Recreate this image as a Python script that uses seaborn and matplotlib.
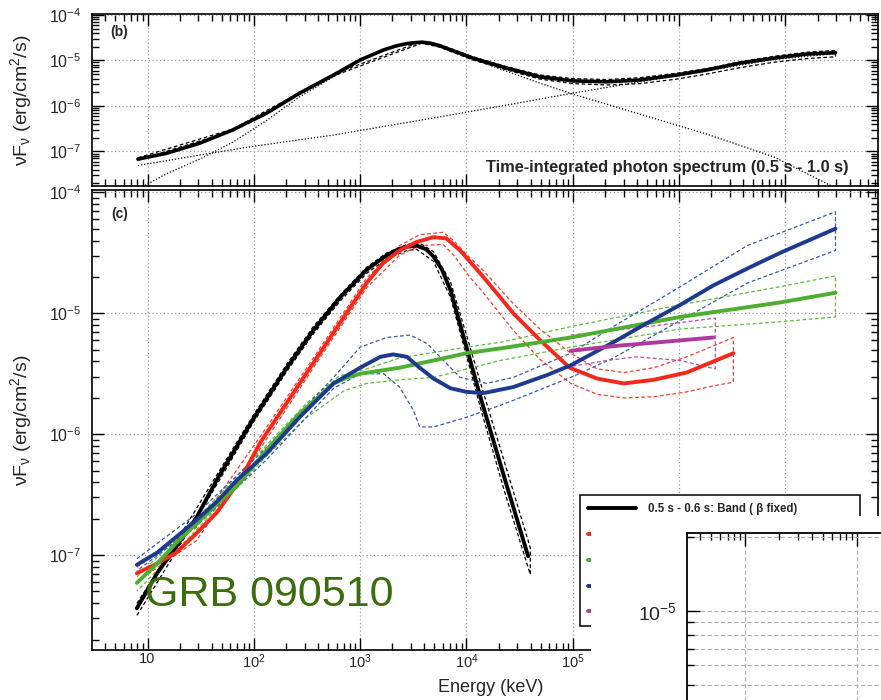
import numpy as np
import pandas as pd
import matplotlib
matplotlib.use("Agg")
import matplotlib.pyplot as plt
import seaborn as sns
from matplotlib.ticker import LogLocator, NullFormatter, FuncFormatter
from matplotlib.patches import Rectangle

# ---------------- data: log10(E / keV) and log10(nuFnu / erg cm^-2 s^-1) ----------------
# panel (b): time-integrated spectrum
b_total_logE = [0.91, 1.18, 1.49, 1.80, 2.12, 2.43, 2.75, 3.00, 3.22, 3.34, 3.44, 3.52, 3.58, 3.66, 3.75, 3.90,
                4.06, 4.38, 4.69, 5.00, 5.32, 5.63, 5.98, 6.26, 6.57, 6.89, 7.20, 7.47]
b_total_logF = [-7.17, -7.04, -6.82, -6.53, -6.16, -5.72, -5.32, -4.99, -4.77, -4.68, -4.63, -4.61, -4.60, -4.62,
                -4.68, -4.81, -4.95, -5.17, -5.36, -5.45, -5.47, -5.43, -5.32, -5.21, -5.06, -4.95, -4.86, -4.83]
b_up_logE = [0.91, 1.80, 2.75, 3.58, 3.75, 4.06, 4.38, 4.69, 5.00, 5.32, 5.63, 5.98, 6.26, 6.57, 6.89, 7.20, 7.47]
b_up_logF = [-7.14, -6.51, -5.30, -4.58, -4.65, -4.92, -5.14, -5.32, -5.40, -5.42, -5.38, -5.28, -5.18, -5.03, -4.91, -4.82, -4.78]
b_lo_logE = [0.91, 1.80, 2.75, 3.58, 3.75, 4.06, 4.38, 4.69, 5.00, 5.32, 5.63, 5.98, 6.26, 6.57, 6.89, 7.20, 7.47]
b_lo_logF = [-7.19, -6.55, -5.34, -4.62, -4.71, -4.99, -5.21, -5.41, -5.51, -5.54, -5.51, -5.41, -5.30, -5.16, -5.04, -4.96, -4.92]
b_bandcomp_logE = [0.95, 1.18, 1.49, 1.80, 2.12, 2.43, 2.75, 3.00, 3.22, 3.44, 3.58, 3.75, 4.06, 4.38, 4.69,
                   5.00, 5.63, 6.26, 6.89, 7.45]
b_bandcomp_logF = [-7.78, -7.49, -7.17, -6.80, -6.32, -5.80, -5.36, -5.01, -4.78, -4.63, -4.61, -4.70, -4.97, -5.24, -5.50,
                   -5.74, -6.18, -6.62, -7.12, -7.78]
b_pl_logE = [0.91, 1.49, 1.99, 2.75, 3.75, 4.38, 5.00, 5.63, 6.26, 6.89, 7.47]
b_pl_logF = [-7.31, -7.08, -6.89, -6.64, -6.24, -5.98, -5.72, -5.47, -5.23, -4.98, -4.85]

# panel (c): time-resolved spectra (only the first legend entry is visible in the picture)
intervals = ["0.5 s - 0.6 s: Band ( \u03b2 fixed)", "", " ", "  ", "   "]

black_logE = [0.90, 1.09, 1.27, 1.46, 1.65, 1.99, 2.31, 2.56, 2.81, 3.06, 3.25, 3.36, 3.44, 3.53, 3.62, 3.69,
              3.77, 3.85, 4.00, 4.14, 4.36, 4.58]
black_logF = [-7.44, -7.15, -6.93, -6.69, -6.38, -5.88, -5.45, -5.14, -4.87, -4.64, -4.52, -4.47, -4.45, -4.44, -4.47,
              -4.53, -4.64, -4.81, -5.28, -5.72, -6.37, -7.01]
black_up_logE = [0.90, 1.27, 1.65, 1.99, 2.31, 2.56, 2.81, 3.06, 3.25, 3.44, 3.56, 3.69, 3.85, 4.00, 4.14, 4.36, 4.60]
black_up_logF = [-7.40, -6.89, -6.34, -5.85, -5.42, -5.11, -4.85, -4.62, -4.50, -4.43, -4.42, -4.49, -4.74, -5.18, -5.60, -6.24, -6.94]
black_lo_logE = [0.90, 1.27, 1.65, 1.99, 2.31, 2.56, 2.81, 3.06, 3.25, 3.44, 3.53, 3.69, 3.85, 4.00, 4.14, 4.36, 4.60]
black_lo_logF = [-7.50, -6.97, -6.42, -5.91, -5.48, -5.17, -4.90, -4.67, -4.55, -4.48, -4.47, -4.57, -4.87, -5.35, -5.81, -6.48, -7.16]

red_logE = [0.90, 1.09, 1.27, 1.46, 1.65, 1.87, 2.06, 2.31, 2.56, 2.81, 3.06, 3.21, 3.37, 3.53, 3.69, 3.81,
            3.94, 4.13, 4.32, 4.44, 4.69, 4.97, 5.23, 5.48, 5.76, 6.07, 6.51]
red_logF = [-7.15, -7.07, -6.98, -6.82, -6.65, -6.38, -6.07, -5.74, -5.41, -5.08, -4.75, -4.59, -4.48, -4.41, -4.37, -4.38,
            -4.48, -4.67, -4.87, -5.00, -5.22, -5.45, -5.54, -5.58, -5.55, -5.49, -5.33]
red_up_logE = [0.90, 1.46, 2.06, 2.56, 3.06, 3.37, 3.56, 3.78, 3.88, 4.03, 4.13, 4.44, 4.69, 4.98, 5.23, 5.48,
               5.76, 6.07, 6.32, 6.51]
red_up_logF = [-7.10, -6.77, -6.02, -5.37, -4.71, -4.44, -4.35, -4.33, -4.40, -4.54, -4.62, -4.92, -5.13, -5.33, -5.46, -5.49,
               -5.45, -5.36, -5.27, -5.20]
red_lo_logE = [0.90, 1.46, 2.06, 2.56, 3.06, 3.37, 3.56, 3.78, 3.88, 4.03, 4.13, 4.44, 4.69, 4.98, 5.23, 5.48,
               5.76, 6.07, 6.32, 6.51]
red_lo_logF = [-7.22, -6.88, -6.12, -5.45, -4.79, -4.52, -4.44, -4.43, -4.52, -4.70, -4.80, -5.14, -5.38, -5.58, -5.67, -5.70,
               -5.69, -5.65, -5.60, -5.57]

green_logE = [0.90, 1.09, 1.27, 1.46, 1.65, 1.84, 2.12, 2.43, 2.75, 2.88, 3.00, 3.37, 3.69, 4.00, 4.32, 4.98, 6.01, 6.95, 7.47]
green_logF = [-7.23, -7.07, -6.90, -6.74, -6.58, -6.43, -6.13, -5.83, -5.58, -5.53, -5.50, -5.45, -5.39, -5.33, -5.29, -5.20,
              -5.03, -4.91, -4.83]
green_up_logE = [0.90, 1.46, 2.12, 2.50, 2.80, 3.06, 3.37, 4.00, 4.32, 4.98, 6.01, 6.95, 7.47]
green_up_logF = [-7.18, -6.70, -6.09, -5.74, -5.52, -5.46, -5.37, -5.28, -5.24, -5.11, -4.93, -4.78, -4.69]
green_lo_logE = [0.90, 1.46, 2.12, 2.50, 2.85, 3.06, 3.37, 3.69, 4.32, 4.98, 6.01, 6.95, 7.47]
green_lo_logF = [-7.30, -6.79, -6.18, -5.86, -5.64, -5.58, -5.55, -5.53, -5.39, -5.28, -5.13, -5.07, -5.03]

blue_logE = [0.90, 1.09, 1.27, 1.46, 1.65, 1.84, 2.12, 2.43, 2.75, 3.00, 3.19, 3.31, 3.44, 3.56, 3.69, 3.85,
             4.00, 4.16, 4.44, 4.76, 4.98, 5.38, 5.70, 6.01, 6.32, 6.64, 6.95, 7.47]
blue_logF = [-7.08, -6.98, -6.85, -6.71, -6.56, -6.38, -6.16, -5.86, -5.58, -5.45, -5.36, -5.34, -5.36, -5.45, -5.54, -5.62,
             -5.65, -5.66, -5.61, -5.51, -5.43, -5.24, -5.08, -4.93, -4.77, -4.63, -4.50, -4.30]
blue_up_logE = [0.90, 1.46, 2.12, 2.75, 3.00, 3.25, 3.47, 3.63, 3.75, 3.94, 4.19, 4.44, 4.98, 5.38, 6.01, 6.64, 7.47]
blue_up_logF = [-7.03, -6.66, -6.11, -5.53, -5.28, -5.20, -5.18, -5.25, -5.36, -5.53, -5.58, -5.53, -5.33, -5.11, -4.78, -4.44, -4.16]
blue_lo_logE = [0.90, 1.46, 2.12, 2.75, 3.00, 3.22, 3.37, 3.50, 3.56, 3.69, 4.00, 4.32, 4.44, 4.98, 5.38, 6.01, 6.64, 7.47]
blue_lo_logF = [-7.13, -6.76, -6.21, -5.62, -5.50, -5.50, -5.61, -5.80, -5.94, -5.94, -5.86, -5.76, -5.72, -5.53, -5.37, -5.06,
                -4.75, -4.48]

magenta_logE = [4.98, 5.40, 5.80, 6.32]
magenta_logF = [-5.31, -5.27, -5.24, -5.20]
magenta_up_logE = [4.98, 5.40, 5.80, 6.34]
magenta_up_logF = [-5.18, -5.14, -5.10, -5.04]
magenta_lo_logE = [4.98, 5.32, 5.60, 6.01, 6.34]
magenta_lo_logF = [-5.44, -5.39, -5.36, -5.39, -5.46]

solid_colors = ["#000000", "#f5281c", "#4caf30", "#1d3a8f", "#b03a9a"]
band_colors = ["#000000", "#ff3b2b", "#5cbf3c", "#3558b0", "#c04aaa"]

# axis ranges (log10)
x_range = (0.478, 7.87)
yb_range = (-7.76, -3.98)
yc_range = (-7.785, -3.98)

# ---------------- helpers to build tables ----------------
def curve(logE, logF, name):
    return pd.DataFrame({"E": 10.0 ** np.asarray(logE, float),
                         "F": 10.0 ** np.asarray(logF, float),
                         "series": name})

def band(upE, upF, loE, loF, name):
    E = list(upE) + list(loE)[::-1]
    F = list(upF) + list(loF)[::-1]
    return curve(E, F, name)

solid_c = pd.concat([curve(black_logE, black_logF, intervals[0]),
                     curve(red_logE, red_logF, intervals[1]),
                     curve(green_logE, green_logF, intervals[2]),
                     curve(blue_logE, blue_logF, intervals[3]),
                     curve(magenta_logE, magenta_logF, intervals[4])], ignore_index=True)
bands_c = pd.concat([band(black_up_logE, black_up_logF, black_lo_logE, black_lo_logF, intervals[0]),
                     band(red_up_logE, red_up_logF, red_lo_logE, red_lo_logF, intervals[1]),
                     band(green_up_logE, green_up_logF, green_lo_logE, green_lo_logF, intervals[2]),
                     band(blue_up_logE, blue_up_logF, blue_lo_logE, blue_lo_logF, intervals[3]),
                     band(magenta_up_logE, magenta_up_logF, magenta_lo_logE, magenta_lo_logF, intervals[4])],
                    ignore_index=True)

# ---------------- style ----------------
sns.set_theme(style="ticks")
plt.rcParams["font.family"] = ["Liberation Sans", "DejaVu Sans"]
plt.rcParams["mathtext.fontset"] = "custom"
plt.rcParams["mathtext.rm"] = "Liberation Sans"
plt.rcParams["mathtext.it"] = "Liberation Sans:italic"
plt.rcParams["mathtext.bf"] = "Liberation Sans:bold"
plt.rcParams["mathtext.default"] = "regular"

W, H = 881, 700
fig = plt.figure(figsize=(W / 100, H / 100), dpi=100)
fig.patch.set_facecolor("white")

ax_b = fig.add_axes([92 / W, 1 - 186 / H, 786 / W, 172 / H])
ax_c = fig.add_axes([92 / W, 1 - 650 / H, 786 / W, 460 / H])


def pow10_in(lo, hi):
    def fmt(v, pos):
        if v <= 0:
            return ""
        lv = np.log10(v)
        if lv < lo - 1e-6 or lv > hi + 1e-6:
            return ""
        e = int(round(lv))
        return "10" if e == 1 else r"$10^{%d}$" % e
    return FuncFormatter(fmt)


def style_axes(ax, yr):
    ax.set_xscale("log")
    ax.set_yscale("log")
    ax.set_xlim(10 ** x_range[0], 10 ** x_range[1])
    ax.set_ylim(10 ** yr[0], 10 ** yr[1])
    for axis, rng in ((ax.xaxis, x_range), (ax.yaxis, yr)):
        axis.set_major_locator(LogLocator(base=10, numticks=30))
        axis.set_minor_locator(LogLocator(base=10, subs=np.arange(2, 10), numticks=30))
        axis.set_major_formatter(pow10_in(*rng))
        axis.set_minor_formatter(NullFormatter())
    ax.tick_params(which="both", direction="in", top=True, right=True, color="black", width=1.0)
    ax.tick_params(which="major", length=8.5)
    ax.tick_params(which="minor", length=5)
    ax.tick_params(axis="y", labelsize=11.5, pad=8)
    ax.tick_params(axis="x", labelsize=10.5, pad=1.5)
    ax.grid(True, which="major", linestyle=(0, (1, 2)), color="#9a9a9a", linewidth=0.9)
    for s in ax.spines.values():
        s.set_linewidth(1.2)
        s.set_color("black")
    ax.set_facecolor("white")


style_axes(ax_b, yb_range)
style_axes(ax_c, yc_range)
ax_b.tick_params(which="both", labelbottom=False)

# ---------------- panel (b) ----------------
b_band_df = band(b_up_logE, b_up_logF, b_lo_logE, b_lo_logF, "band")
sns.lineplot(data=b_band_df, x="E", y="F", sort=False, estimator=None, color="black",
             lw=0.9, linestyle=(0, (3, 2)), ax=ax_b, legend=False)
sns.lineplot(data=curve(b_bandcomp_logE, b_bandcomp_logF, "Band"), x="E", y="F", sort=False, estimator=None,
             color="black", lw=0.9, linestyle=(0, (1, 1.5)), ax=ax_b, legend=False)
sns.lineplot(data=curve(b_pl_logE, b_pl_logF, "PL"), x="E", y="F", sort=False, estimator=None,
             color="black", lw=0.9, linestyle=(0, (1, 1.5)), ax=ax_b, legend=False)
sns.lineplot(data=curve(b_total_logE, b_total_logF, "total"), x="E", y="F", sort=False, estimator=None,
             color="black", lw=2.6, ax=ax_b, legend=False)
ax_b.text(0.023, 0.898, "(b)", transform=ax_b.transAxes, fontsize=10, fontweight="bold",
          ha="left", va="center")
ax_b.text(0.962, 0.108, "Time-integrated photon spectrum (0.5 s - 1.0 s)", transform=ax_b.transAxes,
          fontsize=11.8, fontweight="bold", ha="right", va="center")

# ---------------- panel (c) ----------------
sns.lineplot(data=bands_c, x="E", y="F", hue="series", hue_order=intervals, palette=band_colors,
             sort=False, estimator=None, lw=0.9, linestyle=(0, (3, 2)), ax=ax_c, legend=False)
n_before = len(ax_c.lines)
sns.lineplot(data=solid_c, x="E", y="F", hue="series", hue_order=intervals, palette=solid_colors,
             sort=False, estimator=None, lw=2.8, ax=ax_c, legend=False)
solid_handles = ax_c.lines[n_before:n_before + len(intervals)]
ax_c.text(0.025, 0.947, "(c)", transform=ax_c.transAxes, fontsize=10, fontweight="bold",
          ha="left", va="center")

leg = ax_c.legend(handles=solid_handles, labels=intervals, loc="upper left",
                  bbox_to_anchor=(580 / W, 1 - 495 / H, 280 / W, 0.0), bbox_transform=fig.transFigure,
                  mode="expand", prop={"weight": "bold", "size": 8.3}, frameon=True, fancybox=False,
                  edgecolor="black", framealpha=1.0, handlelength=4.2, handletextpad=1.0,
                  borderpad=0.7, labelspacing=1.2, borderaxespad=0.0)
leg.get_frame().set_linewidth(1.1)

ylab = r"$\nu F_{\nu}$ (erg/cm$^{2}$/s)"
for ax in (ax_b, ax_c):
    ax.set_ylabel(ylab, fontsize=14)
    ax.yaxis.set_label_coords(-0.074, 0.5)
ax_b.set_xlabel("")
ax_c.set_xlabel("Energy (keV)", fontsize=13)
ax_c.xaxis.set_label_coords(0.5076, -0.062)

# ---------------- overlaid cut-out of another chart (bottom right) ----------------
fig.add_artist(Rectangle((591 / W, 0), 290 / W, 184 / H, transform=fig.transFigure,
                         facecolor="white", edgecolor="none", zorder=5))
ax_in = fig.add_axes([687 / W, -0.05, (925 - 687) / W, 0.05 + (700 - 533) / H], zorder=6)
ax_in.set_facecolor("white")
ax_in.set_xscale("log")
ax_in.set_yscale("log")
ax_in.set_xlim(10 ** 1.482, 10 ** 3.607)
ax_in.set_ylim(10 ** -5.506, 10 ** -4.682)
ax_in.yaxis.set_minor_locator(LogLocator(base=10, subs=np.arange(2, 10), numticks=30))
ax_in.yaxis.set_minor_formatter(NullFormatter())
ax_in.xaxis.set_major_formatter(NullFormatter())
ax_in.xaxis.set_minor_formatter(NullFormatter())
ax_in.set_yticks([1e-5], labels=[r"$10^{-5}$"], fontsize=14, math_fontfamily="dejavusans")
ax_in.tick_params(which="both", direction="in", top=True, right=True, labelbottom=False,
                  labelleft=True, color="black", width=1.0)
ax_in.tick_params(which="major", length=9, pad=7)
ax_in.tick_params(which="minor", length=5)
ax_in.grid(True, which="major", axis="x", linestyle=(0, (4, 2)), color="#b0b0b0", linewidth=0.8)
ax_in.grid(True, which="both", axis="y", linestyle=(0, (4, 2)), color="#b0b0b0", linewidth=0.8)
for s in ax_in.spines.values():
    s.set_linewidth(1.3)
    s.set_color("black")

fig.text(145 / W, 1 - 606 / H, "GRB 090510", fontsize=31, color="#3b6d0c",
         ha="left", va="baseline", zorder=7)

fig.savefig("out.png", dpi=100)
